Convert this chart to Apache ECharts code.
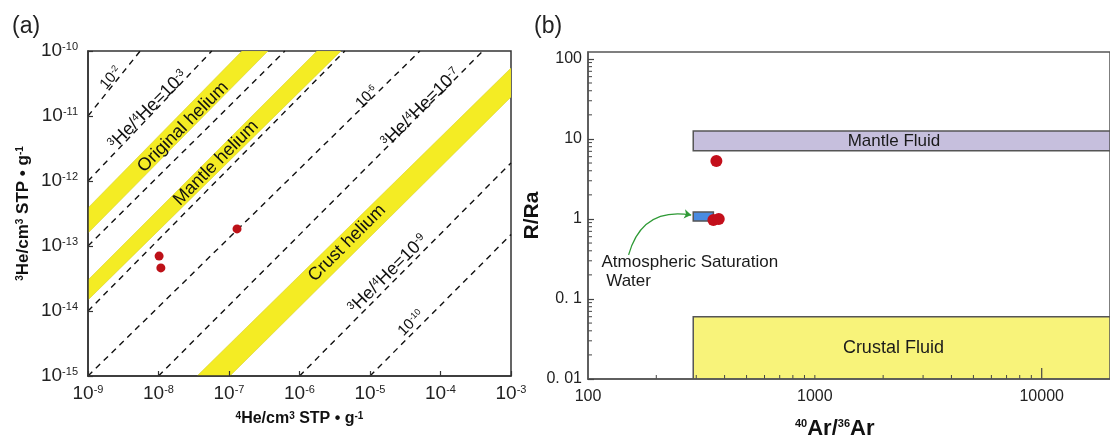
<!DOCTYPE html>
<html><head><meta charset="utf-8">
<script src="https://cdn.jsdelivr.net/npm/echarts@6/dist/echarts.min.js"></script>
<style>html,body{margin:0;padding:0;background:#fff}#c{width:1110px;height:436px}</style>
</head><body><div id="c"></div>
<script>
// ---------- Panel (a) data: 4He (x) vs 3He (y) ----------
const xTickLabelsA = ['10{s|-9}','10{s|-8}','10{s|-7}','10{s|-6}','10{s|-5}','10{s|-4}','10{s|-3}'];
const yTickLabelsA = ['10{s|-15}','10{s|-14}','10{s|-13}','10{s|-12}','10{s|-11}','10{s|-10}'];
// iso-ratio dashed lines (3He/4He = 1e-2 ... 1e-10), endpoints
const ratioLinesA = [
  [[1e-9, 1e-11], [5.5e-9, 1e-10]],
  [[1e-9, 1e-12], [5.7e-8, 1e-10]],
  [[1e-9, 1e-13], [6.2e-7, 1e-10]],
  [[1e-9, 1e-14], [4.4e-6, 1e-10]],
  [[1e-9, 1e-15], [5.1e-5, 1e-10]],
  [[1e-8, 1e-15], [4.0e-4, 1e-10]],
  [[1e-6, 1e-15], [1e-3, 1.9e-12]],
  [[1e-5, 1e-15], [1e-3, 1.5e-13]]
];
// helium source bands (polygons)
const originalBand = [[1e-9, 3.85e-13], [1.53e-7, 1e-10], [3.57e-7, 1e-10], [1e-9, 1.58e-13]];
const mantleBand   = [[1e-9, 3.0e-14], [1.77e-6, 1e-10], [3.88e-6, 1e-10], [1e-9, 1.48e-14]];
const crustBand    = [[3.52e-8, 1e-15], [1e-3, 5.47e-11], [1e-3, 1.96e-11], [1.03e-7, 1e-15]];
const bandsA = [originalBand, mantleBand, crustBand];
// samples
const samplesA = [[1.02e-8, 7.0e-14], [1.08e-8, 4.6e-14], [1.3e-7, 1.83e-13]];
// annotations (text, anchor x, anchor y)
const annotTextA = ['10{s|-2}', '{s|3}He/{s|4}He=10{s|-3}', 'Original helium', 'Mantle helium',
  '10{s|-6}', '{s|3}He/{s|4}He=10{s|-7}', 'Crust helium', '{s|3}He/{s|4}He=10{s|-9}', '10{s|-10}'];
const annotPosA = [[2.12e-9, 3.85e-11], [7.1e-9, 1.24e-11], [2.23e-8, 6.78e-12], [6.55e-8, 1.89e-12],
  [9.06e-6, 1.96e-11], [5.28e-5, 1.33e-11], [4.72e-6, 1.11e-13], [1.8e-5, 3.7e-14], [3.82e-5, 6.54e-15]];

// ---------- Panel (b) data: 40Ar/36Ar (x) vs R/Ra (y) ----------
const xTickLabelsB = ['100', '1000', '10000'];
const yTickLabelsB = ['0. 01', '0. 1', '1', '10', '100'];
const xMinorB = [200,300,400,500,600,700,800,900,1000,2000,3000,4000,5000,6000,7000,8000,9000];
const xTallTickB = [10000];
const yMinorB = [0.02,0.03,0.04,0.05,0.06,0.07,0.08,0.09,0.2,0.3,0.4,0.5,0.6,0.7,0.8,0.9,
  2,3,4,5,6,7,8,9,20,30,40,50,60,70,80,90];
// boxes: [x1, x2, y1, y2]
const mantleFluidBox = [291, 20000, 7.1, 12.6];
const crustalFluidBox = [291, 20000, 0.01, 0.06];
const aswBox = [291, 357, 0.94, 1.22];
const boxesB = [mantleFluidBox, crustalFluidBox, aswBox];
const samplesB = [[368, 5.3], [357, 0.97], [377, 1.0]];
const arrowB = [[151, 0.355], [285, 1.12]];
const boxLabelTextB = ['Mantle Fluid', 'Crustal Fluid', 'Atmospheric Saturation\n Water'];
const boxLabelPosB = [[1395, 9.4], [1329, 0.0244], [114.7, 0.2175]];

// ---------- styling ----------
const FONT = '"Liberation Sans", Arial, sans-serif';
const boxFills = ['#c6bfdd', '#f8f37a', '#4a8be0'];
const bandFill = '#f4ec24';

function expIndex(v, offset, arr) {
  const e = Math.log10(v);
  if (Math.abs(e - Math.round(e)) > 1e-6) return '';
  const i = Math.round(e) + offset;
  return arr[i] !== undefined ? arr[i] : '';
}

const supRich = (fs, bold, color) => ({ s: { fontSize: fs, fontFamily: FONT, color: color || '#111', verticalAlign: 'top', fontWeight: bold ? 'bold' : 'normal' } });

const chart = echarts.init(document.getElementById('c'), null, { renderer: 'canvas' });

const option = {
  animation: false,
  backgroundColor: '#fff',
  textStyle: { fontFamily: FONT },
  title: [
    { text: '(a)', left: 7, top: 10, textStyle: { fontSize: 23, fontWeight: 'normal', color: '#222', fontFamily: FONT } },
    { text: '(b)', left: 529, top: 10, textStyle: { fontSize: 23, fontWeight: 'normal', color: '#222', fontFamily: FONT } }
  ],
  grid: [
    { left: 88, top: 51, width: 423, height: 325, show: true, borderColor: '#333', borderWidth: 1.5, backgroundColor: '#fff' },
    { left: 588, top: 52, width: 541, height: 327, show: true, borderColor: '#555', borderWidth: 1.5, backgroundColor: '#fff' }
  ],
  xAxis: [
    {
      gridIndex: 0, type: 'log', logBase: 10, min: 1e-9, max: 1e-3, z: 10,
      axisLine: { lineStyle: { color: '#333', width: 1.5 } },
      axisTick: { inside: true, length: 5, lineStyle: { color: '#333', width: 1.2 } },
      splitLine: { show: false },
      axisLabel: { margin: 8, fontSize: 19, color: '#222', fontFamily: FONT,
        formatter: v => expIndex(v, 9, xTickLabelsA), rich: supRich(11, false, '#222') },
      name: '{s|4}He/cm{s|3} STP • g{s|-1}', nameLocation: 'middle', nameGap: 35,
      nameTextStyle: { fontSize: 16, fontWeight: 'bold', color: '#111', fontFamily: FONT, rich: supRich(10, true) }
    },
    {
      gridIndex: 1, type: 'log', logBase: 10, min: 100, max: 20000, z: 10,
      axisLine: { lineStyle: { color: '#555', width: 1.5 } },
      axisTick: { show: false },
      splitLine: { show: false },
      axisLabel: { margin: 10, fontSize: 16, color: '#222', fontFamily: FONT, showMaxLabel: false,
        formatter: v => expIndex(v, -2, xTickLabelsB) }
    }
  ],
  yAxis: [
    {
      gridIndex: 0, type: 'log', logBase: 10, min: 1e-15, max: 1e-10, z: 10,
      axisLine: { lineStyle: { color: '#333', width: 1.5 } },
      axisTick: { inside: true, length: 5, lineStyle: { color: '#333', width: 1.2 } },
      splitLine: { show: false },
      axisLabel: { margin: 10, fontSize: 19, color: '#222', fontFamily: FONT,
        formatter: v => expIndex(v, 15, yTickLabelsA), rich: supRich(11, false, '#222') },
      name: '{s|3}He/cm{s|3} STP • g{s|-1}', nameLocation: 'middle', nameGap: 56,
      nameTextStyle: { fontSize: 17, fontWeight: 'bold', color: '#111', fontFamily: FONT, rich: supRich(10, true) }
    },
    {
      gridIndex: 1, type: 'log', logBase: 10, min: 0.01, max: 122, z: 10,
      axisLine: { lineStyle: { color: '#555', width: 1.5 } },
      axisTick: { inside: true, length: 6, lineStyle: { color: '#444', width: 1.2 } },
      splitLine: { show: false },
      axisLabel: { margin: 6, fontSize: 16, color: '#222', fontFamily: FONT, showMaxLabel: false,
        formatter: v => expIndex(v, 2, yTickLabelsB) },
      name: 'R/Ra', nameLocation: 'middle', nameGap: 32,
      nameTextStyle: { fontSize: 21, fontWeight: 'bold', color: '#111', fontFamily: FONT }
    }
  ],
  graphic: [
    { type: 'text', left: 795, top: 418, silent: true,
      style: { text: '{s|40}Ar/{s|36}Ar', fontSize: 22, fontWeight: 'bold', fill: '#111', fontFamily: FONT,
        rich: { s: { fontSize: 11, fontWeight: 'bold', fontFamily: FONT, verticalAlign: 'top', fill: '#111' } } } }
  ],
  series: [
    // bands (a)
    {
      type: 'custom', xAxisIndex: 0, yAxisIndex: 0, clip: true, silent: true, z: 1,
      data: bandsA.map(b => b[0]),
      renderItem: (params, api) => ({
        type: 'polygon',
        shape: { points: bandsA[params.dataIndex].map(p => api.coord(p)) },
        style: { fill: bandFill, stroke: '#d9d12c', lineWidth: 0.6 }
      })
    },
    // ratio lines (a)
    ...ratioLinesA.map(l => ({
      type: 'line', xAxisIndex: 0, yAxisIndex: 0, data: l, symbol: 'none', silent: true, z: 2,
      lineStyle: { color: '#111', width: 1.4, type: [6, 5] }
    })),
    // samples (a)
    {
      type: 'scatter', xAxisIndex: 0, yAxisIndex: 0, data: samplesA, symbolSize: 9, z: 5,
      itemStyle: { color: '#bd1118', opacity: 1 }
    },
    // annotations (a)
    {
      type: 'scatter', xAxisIndex: 0, yAxisIndex: 0, symbolSize: 0, silent: true, z: 6,
      itemStyle: { opacity: 1 },
      data: annotPosA.map((p, i) => ({
        value: p,
        label: {
          show: true, position: 'inside', formatter: annotTextA[i],
          rotate: i === 0 ? 50 : 45,
          fontSize: (i === 0 || i === 4 || i === 8) ? 15 : 18,
          color: '#111', fontFamily: FONT,
          rich: supRich((i === 0 || i === 4 || i === 8) ? 9 : 11)
        }
      }))
    },
    // boxes (b)
    {
      type: 'custom', xAxisIndex: 1, yAxisIndex: 1, clip: true, silent: true, z: 1,
      data: boxesB.map(b => [b[0], b[2]]),
      renderItem: (params, api) => {
        const b = boxesB[params.dataIndex];
        const p1 = api.coord([b[0], b[3]]);
        const p2 = api.coord([b[1], b[2]]);
        return {
          type: 'rect',
          shape: { x: p1[0], y: p1[1], width: p2[0] - p1[0], height: p2[1] - p1[1] },
          style: { fill: boxFills[params.dataIndex], stroke: '#555', lineWidth: 1.5 }
        };
      }
    },
    // small ticks x (b)
    {
      type: 'custom', xAxisIndex: 1, yAxisIndex: 1, clip: false, silent: true, z: 4,
      data: xMinorB.map(v => [v, 0.01]),
      renderItem: (params, api) => {
        const p = api.coord([api.value(0), 0.01]);
        return { type: 'line', shape: { x1: p[0], y1: p[1], x2: p[0], y2: p[1] - 4 }, style: { stroke: '#444', lineWidth: 1 } };
      }
    },
    // tall tick x (b)
    {
      type: 'custom', xAxisIndex: 1, yAxisIndex: 1, clip: false, silent: true, z: 4,
      data: xTallTickB.map(v => [v, 0.01]),
      renderItem: (params, api) => {
        const p = api.coord([api.value(0), 0.01]);
        return { type: 'line', shape: { x1: p[0], y1: p[1], x2: p[0], y2: p[1] - 11 }, style: { stroke: '#444', lineWidth: 1.2 } };
      }
    },
    // minor ticks y (b)
    {
      type: 'custom', xAxisIndex: 1, yAxisIndex: 1, clip: false, silent: true, z: 4,
      data: yMinorB.map(v => [100, v]),
      renderItem: (params, api) => {
        const p = api.coord([100, api.value(1)]);
        return { type: 'line', shape: { x1: p[0], y1: p[1], x2: p[0] + 4, y2: p[1] }, style: { stroke: '#444', lineWidth: 1 } };
      }
    },
    // arrow (b)
    {
      type: 'lines', coordinateSystem: 'cartesian2d', xAxisIndex: 1, yAxisIndex: 1, silent: true, z: 3,
      symbol: ['none', 'arrow'], symbolSize: 7,
      lineStyle: { color: '#2f9a36', width: 1.3, curveness: 0.45, opacity: 1 },
      data: [{ coords: arrowB }]
    },
    // samples (b)
    {
      type: 'scatter', xAxisIndex: 1, yAxisIndex: 1, data: samplesB, symbolSize: 12, z: 5,
      itemStyle: { color: '#c30f1b', opacity: 1 }
    },
    // labels (b)
    {
      type: 'scatter', xAxisIndex: 1, yAxisIndex: 1, symbolSize: 0, silent: true, z: 6,
      itemStyle: { opacity: 1 },
      data: boxLabelPosB.map((p, i) => ({
        value: p,
        label: {
          show: true, position: 'inside', formatter: boxLabelTextB[i],
          align: 'left', lineHeight: 19,
          fontSize: i === 0 ? 17 : (i === 1 ? 18 : 17), color: '#1a1a1a', fontFamily: FONT
        }
      }))
    }
  ]
};
chart.setOption(option);
</script>
</body></html>
